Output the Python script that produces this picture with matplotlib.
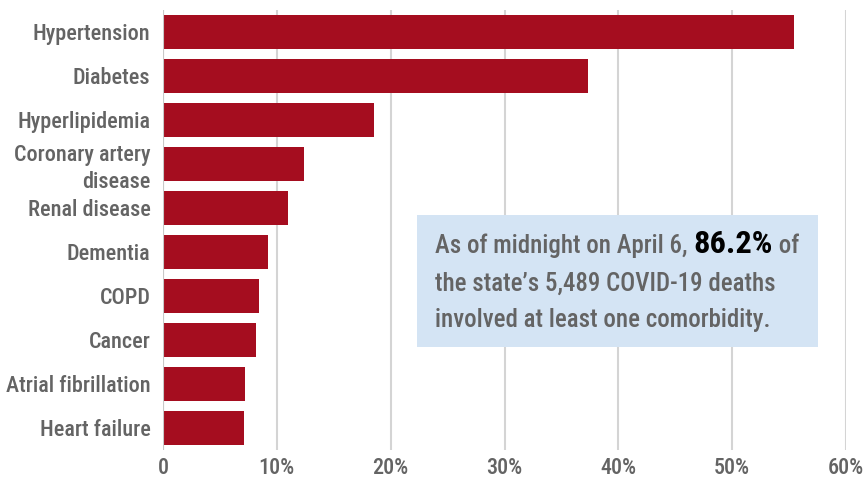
import matplotlib.pyplot as plt
from matplotlib.patches import Rectangle
from matplotlib import font_manager
from matplotlib.font_manager import FontProperties

conditions = ["Hypertension", "Diabetes", "Hyperlipidemia", "Coronary artery\ndisease",
              "Renal disease", "Dementia", "COPD", "Cancer", "Atrial fibrillation", "Heart failure"]
percent = [55.4, 37.3, 18.5, 12.4, 11.0, 9.2, 8.4, 8.2, 7.2, 7.1]
ticks = [0, 10, 20, 30, 40, 50, 60]
tick_labels = ["0", "10%", "20%", "30%", "40%", "50%", "60%"]

# look for a narrow font, the reference uses a condensed gothic
def find_narrow(weight):
    narrow = []
    for f in font_manager.fontManager.ttflist:
        is_narrow = "Condensed" in f.name or "Narrow" in f.name or f.stretch in (
            "condensed", "semi-condensed", "extra-condensed")
        if is_narrow and f.style == "normal" and f.weight == weight:
            narrow.append(f)
    order = ["Liberation Sans Narrow", "Roboto Condensed", "Open Sans Condensed",
             "Noto Sans Condensed", "DejaVu Sans Condensed", "DejaVu Sans"]
    narrow.sort(key=lambda f: order.index(f.name) if f.name in order else 3)
    return narrow[0].fname if narrow else None

reg_file = find_narrow(400)
if reg_file is None:
    reg_file = font_manager.findfont(FontProperties(family="Roboto"))
med_file = find_narrow(500) or reg_file
bold_file = find_narrow(700) or font_manager.findfont(FontProperties(family="Roboto", weight="bold"))

grey = "#646464"
red = "#a50d1f"

fig = plt.figure(figsize=(8.65, 4.8), dpi=100)
r = fig.canvas.get_renderer()

def width_at(text, fname, size):
    t = fig.text(0, 0, text, fontproperties=FontProperties(fname=fname, size=size))
    w = t.get_window_extent(r).width
    t.remove()
    return w

# size the labels so the longest one spans like in the reference
lab_size = min(18, 10 * 143 / width_at("Atrial fibrillation", med_file, 10))
box_size = min(20, 10 * 340 / width_at("the state\u2019s 5,489 COVID-19 deaths", med_file, 10))
lab_fp = FontProperties(fname=med_file, size=lab_size)

ax = fig.add_axes([163/865, 1 - 450/480, (846 - 163)/865, 440/480])

y = range(len(conditions))
ax.barh(y, percent, height=0.76, color=red, zorder=3)
ax.set_ylim(len(conditions) - 0.5, -0.5)
ax.set_xlim(0, 60)

ax.set_xticks(ticks)
ax.set_xticklabels(tick_labels, color=grey)
ax.set_yticks(list(y))
ax.set_yticklabels(conditions, color=grey, linespacing=1.25)
for lbl in ax.get_xticklabels() + ax.get_yticklabels():
    lbl.set_fontproperties(lab_fp)
ax.tick_params(axis='y', length=0, pad=9)
ax.tick_params(axis='x', length=0, pad=5)
ax.grid(axis='x', color="#d4d4d4", linewidth=1.5, zorder=0)
for s in ax.spines.values():
    s.set_visible(False)
ax.axvline(0, color="#c8c8c8", linewidth=1.5, zorder=4)

# annotation box
box = Rectangle((417, 480 - 347), 401, 132, transform=None, facecolor="#d4e4f4",
                edgecolor="none", zorder=5)
fig.patches.append(box)

box_fp = FontProperties(fname=med_file, size=box_size)
big_fp = FontProperties(fname=bold_file, size=box_size * 1.3)
x0 = 435
t1 = fig.text(x0/865, 1 - 253/480, "As of midnight on April 6, ", fontproperties=box_fp,
              color=grey, va='baseline', zorder=6)
w1 = t1.get_window_extent(r).width
t2 = fig.text((x0 + w1)/865, 1 - 253/480, "86.2%", fontproperties=big_fp, color="black",
              va='baseline', zorder=6)
w2 = t2.get_window_extent(r).width
fig.text((x0 + w1 + w2)/865, 1 - 253/480, " of", fontproperties=box_fp, color=grey,
         va='baseline', zorder=6)
fig.text(x0/865, 1 - 291/480, "the state\u2019s 5,489 COVID-19 deaths", fontproperties=box_fp,
         color=grey, va='baseline', zorder=6)
fig.text(x0/865, 1 - 327/480, "involved at least one comorbidity.", fontproperties=box_fp,
         color=grey, va='baseline', zorder=6)

fig.savefig("out.png", dpi=100)
